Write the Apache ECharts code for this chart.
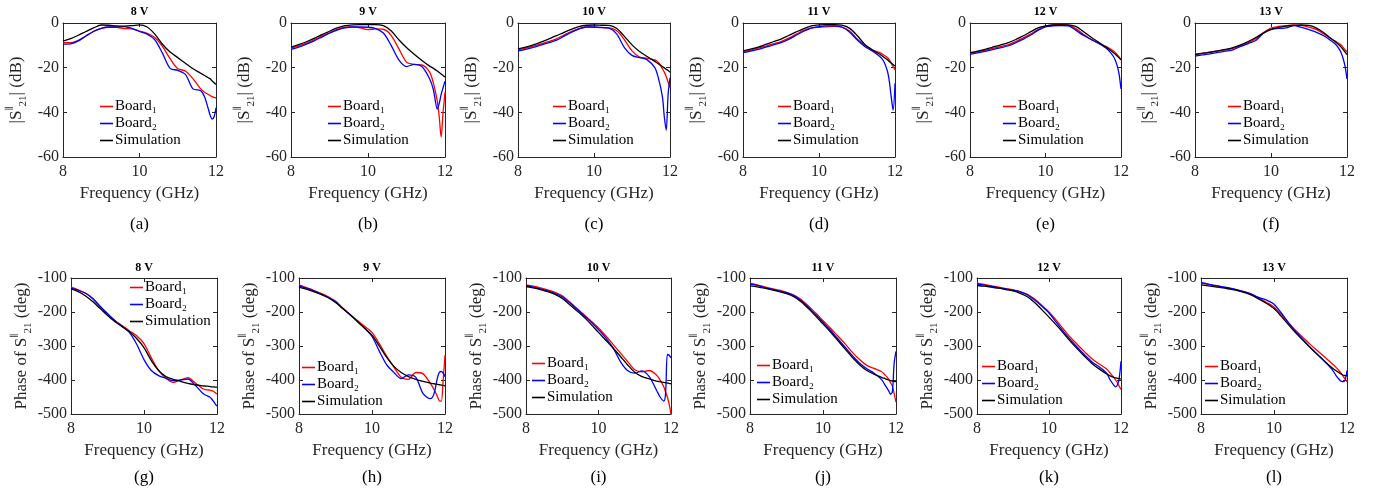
<!DOCTYPE html>
<html><head><meta charset="utf-8">
<script src="https://cdn.jsdelivr.net/npm/echarts@6/dist/echarts.min.js"></script>
<style>html,body{margin:0;padding:0;background:#fff}#c{width:1385px;height:495px}</style>
</head><body><div id="c"></div>
<script>
// ---------------- data ----------------
const F = [8.0, 8.2, 8.4, 8.6, 8.8, 9.0, 9.2, 9.4, 9.6, 9.8, 10.0, 10.2, 10.4, 10.6, 10.8, 11.0, 11.2, 11.4, 11.6, 11.7, 11.8, 11.85, 11.9, 11.95, 12.0];
const voltLabels = ['8 V', '9 V', '10 V', '11 V', '12 V', '13 V'];
const panelTags = ['(a)', '(b)', '(c)', '(d)', '(e)', '(f)', '(g)', '(h)', '(i)', '(j)', '(k)', '(l)'];
const seriesNames = ['Board\u2081', 'Board\u2082', 'Simulation'];
const xTicks = [8, 10, 12];
const magTicks = [-60, -40, -20, 0];
const phTicks = [-500, -400, -300, -200, -100];

// |S21| (dB)
const mag8B1  = [-8.8,-8.8,-7.8,-5.8,-3.7,-2.4,-1.9,-2.0,-2.5,-2.6,-3.6,-4.6,-6.5,-10.5,-16,-20.5,-21.5,-25,-29.5,-31,-32,-32.5,-33,-33.3,-33.6];
const mag8B2  = [-9.5,-9.3,-8,-5.8,-3.8,-2.4,-1.8,-1.8,-1.6,-2.4,-3.8,-5,-7.5,-13.5,-20.3,-21.2,-23,-29.5,-30.3,-33,-38.5,-41.5,-43,-42,-38];
const mag8Sim = [-8.1,-7,-5.5,-3.8,-2.2,-0.9,-1.0,-1.3,-1.4,-1.2,-0.8,-1.8,-5,-9.5,-13,-15.5,-18,-20.5,-22.5,-23.5,-24.5,-25,-26,-26.8,-27.5];
const mag9B1  = [-11.3,-10.2,-9.0,-7.5,-5.8,-4.4,-2.9,-1.9,-1.7,-2.2,-3.0,-2.6,-2.8,-5.5,-11.5,-17.5,-18.5,-18.8,-22,-27,-35,-42,-51,-40,-31];
const mag9B2  = [-11.8,-10.8,-9.5,-8,-6.3,-4.6,-3.2,-2.2,-1.8,-1.8,-1.9,-2.5,-4.5,-10,-16.5,-19.5,-18.5,-19.5,-25,-30,-38.5,-36,-32,-29,-26];
const mag9Sim = [-10.8,-9.7,-8.4,-6.9,-5.2,-3.7,-2.2,-1.2,-0.8,-0.7,-0.7,-0.7,-1.2,-3.5,-7.5,-11,-14,-16.8,-19.3,-20.3,-21.5,-22.2,-22.8,-23.5,-24.2];
const mag10B1  = [-12,-11.3,-10.4,-9.4,-8.3,-7.2,-5.5,-3.8,-2.5,-1.8,-1.9,-2.1,-2.2,-3.5,-7.5,-12.5,-15.3,-15.8,-16.5,-17.8,-20.5,-22,-24,-26.5,-29];
const mag10B2  = [-12.5,-11.8,-10.9,-9.9,-8.9,-7.8,-6,-4.2,-2.7,-1.8,-1.8,-2.0,-2.3,-5,-11,-14.5,-15.5,-16.5,-20,-25,-33,-42,-48,-32,-24.5];
const mag10Sim = [-11.6,-10.8,-9.8,-8.6,-7.2,-5.8,-4.3,-2.9,-1.6,-1.0,-0.9,-1.0,-1.1,-2.5,-6,-9.8,-12.8,-15,-17.2,-18.3,-19.5,-20.1,-20.7,-21.3,-22];
const mag11B1  = [-12.8,-12.1,-11.3,-10.3,-9.3,-8.3,-6.8,-5,-3.3,-2.2,-1.9,-1.7,-1.5,-1.8,-3.5,-7,-10,-12,-13.3,-14.3,-15.5,-16.5,-18,-19.5,-21];
const mag11B2  = [-13.3,-12.6,-11.8,-10.8,-9.8,-8.8,-7.3,-5.5,-3.7,-2.3,-1.6,-1.3,-1.3,-1.8,-4,-7.5,-10.5,-12.5,-15,-17,-21.5,-26,-33,-39,-27];
const mag11Sim = [-12.5,-11.7,-10.8,-9.6,-8.4,-7.2,-5.6,-4,-2.5,-1.3,-0.8,-0.7,-0.7,-1.0,-2.3,-5.5,-9.5,-12,-14,-15.2,-16.5,-17.2,-17.9,-18.6,-19.3];
const mag12B1  = [-13.5,-12.9,-12.2,-11.4,-10.6,-9.8,-8.4,-6.8,-5,-3,-1.5,-0.8,-0.7,-1.0,-2.5,-5,-7.3,-9,-10.5,-11.4,-12.5,-13.3,-14.2,-15.2,-16.5];
const mag12B2  = [-14,-13.4,-12.7,-11.9,-11.1,-10.3,-8.9,-7.3,-5.5,-3.3,-1.7,-1.3,-1.2,-1.3,-3.2,-5.5,-7.3,-9,-11.2,-12.8,-15,-16.8,-19.2,-23,-29.5];
const mag12Sim = [-13.3,-12.6,-11.8,-10.8,-9.9,-8.9,-7.5,-5.8,-4,-2.2,-1.3,-0.9,-0.8,-0.8,-1.5,-3.8,-6.3,-8.5,-10.8,-12,-13.3,-14,-14.8,-15.6,-16.5];
const mag13B1  = [-14,-13.5,-13,-12.5,-12,-11.4,-10.2,-8.8,-7,-4.3,-2.3,-1.5,-1.2,-0.9,-1.1,-1.8,-3,-5,-7.3,-8.2,-9.3,-10,-11,-12,-13];
const mag13B2  = [-14.8,-14.3,-13.8,-13.2,-12.6,-12,-10.5,-9.2,-7.8,-4.6,-2.8,-2.4,-2.2,-1.2,-2,-3,-4.2,-5.8,-8.2,-9.5,-11.8,-13.5,-16,-19.5,-25];
const mag13Sim = [-14.2,-13.6,-13.1,-12.5,-11.8,-11,-9.8,-8.3,-6.5,-4.5,-3,-2,-1.4,-1.1,-0.9,-1.1,-2.3,-4.5,-7.2,-8.5,-10,-10.9,-11.9,-13,-14.2];

// Phase of S21 (deg)
const ph8B1  = [-127,-135,-145,-162,-185,-205,-225,-240,-255,-270,-293,-335,-372,-395,-407,-400,-393,-408,-425,-428,-430,-431,-433,-437,-441];
const ph8B2  = [-130,-136,-145,-160,-183,-205,-225,-242,-260,-295,-340,-372,-387,-395,-402,-400,-397,-415,-438,-445,-450,-455,-462,-470,-477];
const ph8Sim = [-132,-140,-153,-170,-190,-210,-228,-243,-258,-278,-305,-343,-372,-390,-398,-404,-410,-414,-417,-418,-419,-420,-420,-421,-421];
const ph9B1  = [-120,-128,-136,-145,-155,-168,-188,-207,-225,-242,-260,-293,-330,-362,-392,-398,-378,-382,-410,-428,-450,-462,-462,-400,-327];
const ph9B2  = [-123,-130,-138,-147,-157,-170,-190,-208,-228,-248,-272,-315,-355,-378,-396,-385,-392,-440,-455,-440,-390,-377,-375,-380,-390];
const ph9Sim = [-127,-133,-140,-148,-158,-172,-190,-208,-228,-248,-268,-300,-333,-360,-378,-390,-398,-404,-409,-411,-413,-414,-415,-416,-417];
const ph10B1  = [-120,-124,-129,-135,-142,-152,-170,-189,-208,-227,-247,-270,-295,-320,-345,-370,-376,-372,-385,-400,-420,-435,-450,-472,-500];
const ph10B2  = [-122,-127,-132,-138,-145,-155,-172,-191,-210,-230,-252,-276,-305,-345,-372,-380,-373,-390,-430,-450,-462,-440,-325,-327,-335];
const ph10Sim = [-125,-129,-134,-140,-148,-160,-178,-196,-215,-237,-260,-283,-306,-330,-355,-377,-390,-397,-403,-405,-407,-408,-409,-410,-411];
const ph11B1  = [-115,-120,-126,-131,-136,-142,-150,-163,-182,-203,-225,-247,-270,-293,-318,-340,-357,-366,-375,-385,-398,-408,-418,-440,-465];
const ph11B2  = [-118,-122,-128,-133,-138,-143,-152,-166,-186,-208,-230,-253,-278,-303,-328,-350,-367,-380,-398,-415,-432,-442,-435,-350,-316];
const ph11Sim = [-123,-126,-130,-135,-140,-146,-155,-170,-190,-212,-235,-258,-283,-308,-333,-355,-372,-383,-392,-396,-400,-402,-403,-404,-405];
const ph12B1  = [-115,-119,-123,-127,-131,-135,-140,-148,-162,-180,-200,-224,-250,-275,-297,-318,-338,-353,-368,-380,-393,-400,-408,-418,-428];
const ph12B2  = [-118,-121,-125,-129,-132,-136,-141,-150,-165,-183,-203,-230,-257,-282,-305,-327,-347,-362,-380,-400,-415,-420,-415,-395,-345];
const ph12Sim = [-122,-124,-127,-130,-134,-138,-145,-155,-172,-193,-215,-238,-262,-287,-310,-332,-352,-368,-382,-388,-392,-394,-395,-396,-397];
const ph13B1  = [-115,-119,-123,-127,-131,-136,-141,-148,-160,-172,-185,-208,-232,-255,-276,-296,-315,-334,-353,-363,-375,-382,-390,-397,-405];
const ph13B2  = [-113,-118,-122,-126,-130,-135,-141,-149,-158,-165,-177,-203,-232,-258,-282,-305,-326,-347,-370,-387,-400,-404,-405,-400,-372];
const ph13Sim = [-120,-123,-126,-129,-133,-137,-143,-151,-163,-175,-190,-213,-238,-262,-284,-305,-326,-346,-365,-373,-380,-383,-386,-387,-388];

const panelSets = [
  [mag8B1, mag8B2, mag8Sim], [mag9B1, mag9B2, mag9Sim], [mag10B1, mag10B2, mag10Sim],
  [mag11B1, mag11B2, mag11Sim], [mag12B1, mag12B2, mag12Sim], [mag13B1, mag13B2, mag13Sim],
  [ph8B1, ph8B2, ph8Sim], [ph9B1, ph9B2, ph9Sim], [ph10B1, ph10B2, ph10Sim],
  [ph11B1, ph11B2, ph11Sim], [ph12B1, ph12B2, ph12Sim], [ph13B1, ph13B2, ph13Sim]
];

// ---------------- layout ----------------
const FONT = 'Liberation Serif';
const AX = '#262626';
const colors = ['#ff0000', '#0000ff', '#000000'];
const topL = [63, 291, 518, 743, 970, 1195], topR = [216, 445, 670, 895, 1121, 1347];
const botL = [71, 299, 526, 750, 977, 1201], botR = [217, 445, 671, 896, 1121, 1347];
const rowTop = [23, 278], rowH = [134, 136];
const legTop = [[98,98,98,98,98,98],[279,359,355,357,358,358]];
const legLeft = [[100,328,553,778,1003,1228],[130,302,532,757,982,1205]];

const grids = [], xAxes = [], yAxes = [], series = [], legends = [], graphics = [];
const xTop = [], yRight = [];
for (let i = 0; i < 12; i++) {
  const row = i < 6 ? 0 : 1, col = i % 6;
  const L = row ? botL[col] : topL[col], R = row ? botR[col] : topR[col];
  grids.push({left: L, top: rowTop[row], width: R - L, height: rowH[row], containLabel: false});
  const ticks = row ? phTicks : magTicks;
  const yMin = ticks[0], yMax = ticks[ticks.length - 1], yInt = ticks[1] - ticks[0];
  const baseX = {
    type: 'value', gridIndex: i, min: xTicks[0], max: xTicks[xTicks.length - 1], interval: xTicks[1] - xTicks[0],
    splitLine: {show: false},
    axisLine: {show: true, onZero: false, lineStyle: {color: AX, width: 1}},
    axisTick: {show: true, inside: true, length: 4, lineStyle: {color: AX}}
  };
  xAxes.push(Object.assign({}, baseX, {
    position: 'bottom',
    axisLabel: {show: true, margin: 7, color: AX, fontFamily: FONT, fontSize: 16},
    name: 'Frequency (GHz)', nameLocation: 'middle', nameGap: 28,
    nameTextStyle: {color: AX, fontFamily: FONT, fontSize: 17}
  }));
  xTop.push(Object.assign({}, baseX, {position: 'top', axisLabel: {show: false}}));
  const baseY = {
    type: 'value', gridIndex: i, min: yMin, max: yMax, interval: yInt,
    splitLine: {show: false},
    axisLine: {show: true, onZero: false, lineStyle: {color: AX, width: 1}},
    axisTick: {show: true, inside: true, length: 4, lineStyle: {color: AX}}
  };
  const rich = {
    t: {fontFamily: FONT, fontSize: 17, color: AX, lineHeight: 24},
    p: {fontFamily: 'DejaVu Serif', fontSize: 9, color: AX, lineHeight: 11, verticalAlign: 'top'},
    s: {fontFamily: FONT, fontSize: 11, color: AX, lineHeight: 11, verticalAlign: 'bottom'}
  };
  yAxes.push(Object.assign({}, baseY, {
    position: 'left',
    axisLabel: {show: true, margin: 4, color: AX, fontFamily: FONT, fontSize: 16},
    name: row ? '{t|Phase of S}{p|\u2225}{s|21}{t| (deg)}' : '{t||S}{p|\u2225}{s|21}{t|| (dB)}',
    nameLocation: 'middle', nameGap: row ? 35 : 34, nameRotate: 90,
    nameTextStyle: {color: AX, fontFamily: FONT, fontSize: 17, rich: rich}
  }));
  yRight.push(Object.assign({}, baseY, {position: 'right', axisLabel: {show: false}}));

  panelSets[i].forEach((arr, k) => {
    series.push({
      type: 'line', name: seriesNames[k], xAxisIndex: i, yAxisIndex: i,
      data: F.map((f, j) => [f, arr[j]]),
      symbol: 'none', smooth: 0.3, clip: true,
      lineStyle: {color: colors[k], width: 1.3}, itemStyle: {color: colors[k]},
      z: 2 + k
    });
  });

  legends.push({
    left: legLeft[row][col], top: legTop[row][col], orient: 'vertical', padding: 0,
    itemGap: 0, itemWidth: 13, itemHeight: 1.6, icon: 'rect', selectedMode: false,
    textStyle: {fontFamily: FONT, fontSize: 15, color: '#000', lineHeight: 17, padding: [0,0,0,-3]},
    data: seriesNames.slice()
  });

  const cx = (L + R) / 2;
  graphics.push({type: 'text', x: cx, y: row ? 268 : 12, style: {text: voltLabels[col], font: 'bold 12px "Liberation Serif"', fill: '#000', textAlign: 'center', textVerticalAlign: 'middle', align: 'center', verticalAlign: 'middle'}});
  graphics.push({type: 'text', x: cx, y: row ? 478 : 225, style: {text: panelTags[i], font: '17px "Liberation Serif"', fill: '#000', textAlign: 'center', textVerticalAlign: 'middle', align: 'center', verticalAlign: 'middle'}});
}

const chart = echarts.init(document.getElementById('c'), null, {renderer: 'canvas', width: 1385, height: 495});
chart.setOption({
  backgroundColor: '#ffffff',
  animation: false,
  grid: grids,
  xAxis: xAxes.concat(xTop),
  yAxis: yAxes.concat(yRight),
  legend: legends,
  series: series,
  graphic: graphics
});
</script>
</body></html>
